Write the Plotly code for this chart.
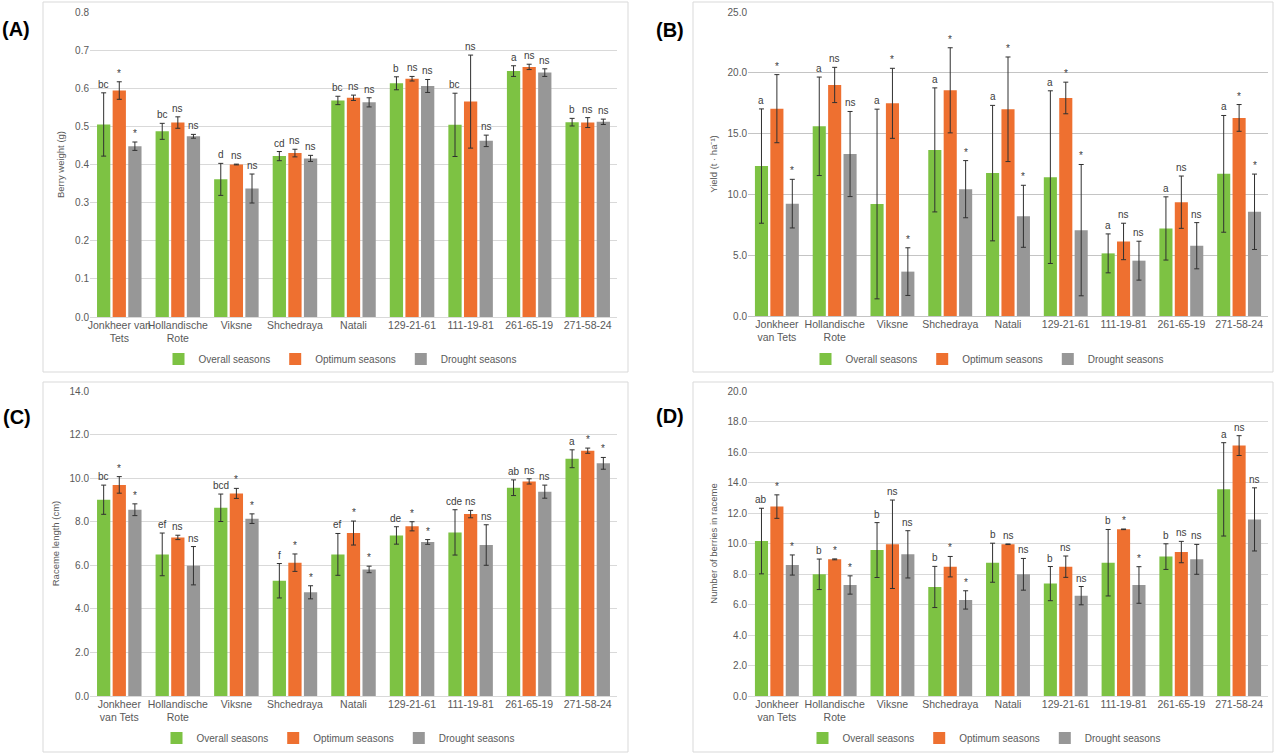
import plotly.graph_objects as go

# ---------------- data ----------------
cats_A = ["Jonkheer van<br>Tets", "Hollandische<br>Rote", "Viksne", "Shchedraya", "Natali",
          "129-21-61", "111-19-81", "261-65-19", "271-58-24"]
cats_B = ["Jonkheer<br>van Tets", "Hollandische<br>Rote", "Viksne", "Shchedraya", "Natali",
          "129-21-61", "111-19-81", "261-65-19", "271-58-24"]

series_names = ["Overall seasons", "Optimum seasons", "Drought seasons"]

# (A) Berry weight (g)
A_overall = [0.505, 0.487, 0.361, 0.422, 0.568, 0.613, 0.504, 0.645, 0.511]
A_overall_err = [0.083, 0.021, 0.042, 0.012, 0.011, 0.017, 0.083, 0.014, 0.010]
A_opt = [0.594, 0.510, 0.400, 0.430, 0.575, 0.625, 0.565, 0.656, 0.510]
A_opt_err = [0.023, 0.015, 0.001, 0.010, 0.007, 0.006, 0.122, 0.007, 0.013]
A_dr = [0.448, 0.474, 0.337, 0.416, 0.563, 0.606, 0.462, 0.641, 0.512]
A_dr_err = [0.011, 0.005, 0.038, 0.008, 0.012, 0.017, 0.015, 0.010, 0.007]
A_lab_overall = ["bc", "bc", "d", "cd", "bc", "b", "bc", "a", "b"]
A_lab_opt = ["*", "ns", "ns", "ns", "ns", "ns", "ns", "ns", "ns"]
A_lab_dr = ["*", "ns", "ns", "ns", "ns", "ns", "ns", "ns", "ns"]

# (B) Yield (t ha-1)
B_overall = [12.33, 15.6, 9.21, 13.66, 11.75, 11.42, 5.15, 7.2, 11.69]
B_overall_err = [4.7, 4.05, 7.8, 5.1, 5.57, 7.1, 1.6, 2.6, 4.8]
B_opt = [17.05, 19.0, 17.49, 18.56, 17.0, 17.93, 6.13, 9.36, 16.29]
B_opt_err = [2.8, 1.45, 2.88, 3.5, 4.3, 1.3, 1.5, 2.15, 1.1]
B_dr = [9.24, 13.32, 3.65, 10.43, 8.2, 7.06, 4.55, 5.78, 8.57]
B_dr_err = [2.0, 3.5, 1.96, 2.35, 2.55, 5.4, 1.6, 1.9, 3.1]
B_lab_overall = ["a", "a", "a", "a", "a", "a", "a", "a", "a"]
B_lab_opt = ["*", "ns", "*", "*", "*", "*", "ns", "ns", "*"]
B_lab_dr = ["*", "ns", "*", "*", "*", "*", "ns", "ns", "*"]

# (C) Raceme length (cm)
C_overall = [9.01, 6.5, 8.64, 5.29, 6.5, 7.37, 7.51, 9.56, 10.89]
C_overall_err = [0.67, 0.98, 0.63, 0.79, 0.96, 0.4, 1.04, 0.36, 0.41]
C_opt = [9.69, 7.28, 9.3, 6.12, 7.48, 7.79, 8.35, 9.85, 11.26]
C_opt_err = [0.38, 0.1, 0.23, 0.4, 0.55, 0.21, 0.17, 0.12, 0.12]
C_dr = [8.55, 5.98, 8.14, 4.76, 5.81, 7.07, 6.93, 9.38, 10.68]
C_dr_err = [0.27, 0.88, 0.22, 0.3, 0.15, 0.11, 0.93, 0.3, 0.27]
C_lab_overall = ["bc", "ef", "bcd", "f", "ef", "de", "cde", "ab", "a"]
C_lab_opt = ["*", "ns", "*", "*", "*", "*", "ns", "ns", "*"]
C_lab_dr = ["*", "ns", "*", "*", "*", "*", "ns", "ns", "*"]

# (D) Number of berries in raceme
D_overall = [10.16, 7.98, 9.57, 7.15, 8.74, 7.37, 8.74, 9.14, 13.55]
D_overall_err = [2.15, 1.0, 1.8, 1.35, 1.28, 1.12, 2.18, 0.84, 3.06]
D_opt = [12.42, 8.96, 9.95, 8.48, 9.95, 8.48, 10.93, 9.44, 16.42]
D_opt_err = [0.77, 0.03, 2.9, 0.67, 0.02, 0.7, 0.02, 0.7, 0.65]
D_dr = [8.59, 7.28, 9.29, 6.3, 7.98, 6.58, 7.28, 8.96, 11.58]
D_dr_err = [0.66, 0.6, 1.55, 0.6, 1.04, 0.6, 1.2, 0.98, 2.07]
D_lab_overall = ["ab", "b", "b", "b", "b", "b", "b", "b", "a"]
D_lab_opt = ["*", "*", "ns", "*", "ns", "ns", "*", "ns", "ns"]
D_lab_dr = ["*", "*", "ns", "*", "ns", "ns", "*", "ns", "ns"]

# ---------------- style ----------------
W, H = 1280, 754
colors = ["#7DC243", "#EE7030", "#979797"]
FONT = "Liberation Sans, Arial, sans-serif"
BARGAP = 0.2

def px_x(p):
    return p / W

def px_y(p):
    return 1 - p / H

panels = [
    dict(name="A", cats=cats_A, vals=[A_overall, A_opt, A_dr], errs=[A_overall_err, A_opt_err, A_dr_err],
         labs=[A_lab_overall, A_lab_opt, A_lab_dr], title="Berry weight (g)", rng=[0, 0.8], dtick=0.1,
         plot=(90, 617, 12, 317), frame=(43, 628, 2, 372), leg=(340, 359), tag=(16, 29), grid="#d9d9d9"),
    dict(name="B", cats=cats_B, vals=[B_overall, B_opt, B_dr], errs=[B_overall_err, B_opt_err, B_dr_err],
         labs=[B_lab_overall, B_lab_opt, B_lab_dr], title="Yield (t · ha⁻¹)", rng=[0, 25], dtick=5,
         plot=(748, 1268, 12, 316), frame=(693, 1273, 2, 372), leg=(987, 359), tag=(670, 30), grid="#c4c4c4"),
    dict(name="C", cats=cats_B, vals=[C_overall, C_opt, C_dr], errs=[C_overall_err, C_opt_err, C_dr_err],
         labs=[C_lab_overall, C_lab_opt, C_lab_dr], title="Raceme length (cm)", rng=[0, 14], dtick=2,
         plot=(90, 617, 391, 696), frame=(43, 628, 382, 752), leg=(338, 738), tag=(17, 417), grid="#d9d9d9"),
    dict(name="D", cats=cats_B, vals=[D_overall, D_opt, D_dr], errs=[D_overall_err, D_opt_err, D_dr_err],
         labs=[D_lab_overall, D_lab_opt, D_lab_dr], title="Number of berries in raceme", rng=[0, 20], dtick=2,
         plot=(748, 1268, 391, 696), frame=(693, 1273, 382, 752), leg=(984, 738), tag=(670, 416), grid="#d9d9d9"),
]

fig = go.Figure()
layout = dict(
    width=W, height=H, margin=dict(l=0, r=0, t=0, b=0, pad=0, autoexpand=False),
    paper_bgcolor="white", plot_bgcolor="white",
    barmode="group", bargap=BARGAP, bargroupgap=0.15,
    font=dict(family=FONT, size=10, color="#595959"),
)
shapes = []
annotations = []

for k, p in enumerate(panels):
    sfx = "" if k == 0 else str(k + 1)
    xa, ya = "x" + sfx, "y" + sfx
    legname = "legend" + sfx
    x0, x1, y0, y1 = p["plot"]
    for s in range(3):
        fig.add_trace(go.Bar(
            x=p["cats"], y=p["vals"][s], name=series_names[s],
            marker=dict(color=colors[s], line=dict(width=0)),
            error_y=dict(type="data", array=p["errs"][s], color="#303030", thickness=1, width=2.5),
            xaxis=xa, yaxis=ya, legend=legname, showlegend=True,
        ))
    layout["xaxis" + sfx] = dict(
        domain=[px_x(x0), px_x(x1)], anchor=ya, type="category", tickangle=0, automargin=False,
        showgrid=False, showline=False, ticks="", tickfont=dict(size=10.5, color="#595959"),
    )
    layout["yaxis" + sfx] = dict(
        domain=[px_y(y1), px_y(y0)], anchor=xa, range=p["rng"], dtick=p["dtick"], automargin=False,
        tickformat=".1f", showgrid=True, gridcolor=p["grid"], gridwidth=1,
        zeroline=True, zerolinecolor=p["grid"], zerolinewidth=1, showline=False, ticks="",
        tickfont=dict(size=10, color="#595959"),
        title=dict(text=p["title"], font=dict(size=9.5, color="#595959"), standoff=8),
    )
    layout[legname] = dict(
        orientation="h", x=px_x(p["leg"][0]), y=px_y(p["leg"][1]), xanchor="center", yanchor="middle",
        font=dict(size=10, color="#595959"), bgcolor="rgba(0,0,0,0)", itemwidth=30,
        tracegroupgap=0, itemclick=False,
    )
    fx0, fx1, fy0, fy1 = p["frame"]
    shapes.append(dict(type="rect", xref="paper", yref="paper",
                       x0=px_x(fx0), x1=px_x(fx1), y0=px_y(fy1), y1=px_y(fy0),
                       line=dict(color="#d9d9d9", width=1), fillcolor="rgba(0,0,0,0)", layer="below"))
    annotations.append(dict(text="<b>(" + p["name"] + ")</b>", xref="paper", yref="paper",
                            x=px_x(p["tag"][0]), y=px_y(p["tag"][1]), xanchor="center", yanchor="middle",
                            showarrow=False, font=dict(size=20, color="black", family=FONT)))
    # significance letters above error bars
    cat_px = (x1 - x0) / len(p["cats"])
    slot = cat_px * (1 - BARGAP) / 3
    for s in range(3):
        for i in range(len(p["cats"])):
            annotations.append(dict(
                text=p["labs"][s][i],
                xref=xa, yref=ya, x=i, y=p["vals"][s][i] + p["errs"][s][i],
                xshift=(s - 1) * slot, yshift=1, xanchor="center", yanchor="bottom", showarrow=False,
                font=dict(size=10, color="#404040", family=FONT),
            ))

layout["shapes"] = shapes
layout["annotations"] = annotations
fig.update_layout(**layout)
fig.write_html("out.html", config={"displayModeBar": False},
               post_script="document.body.style.margin='0';document.body.style.overflow='hidden';")
